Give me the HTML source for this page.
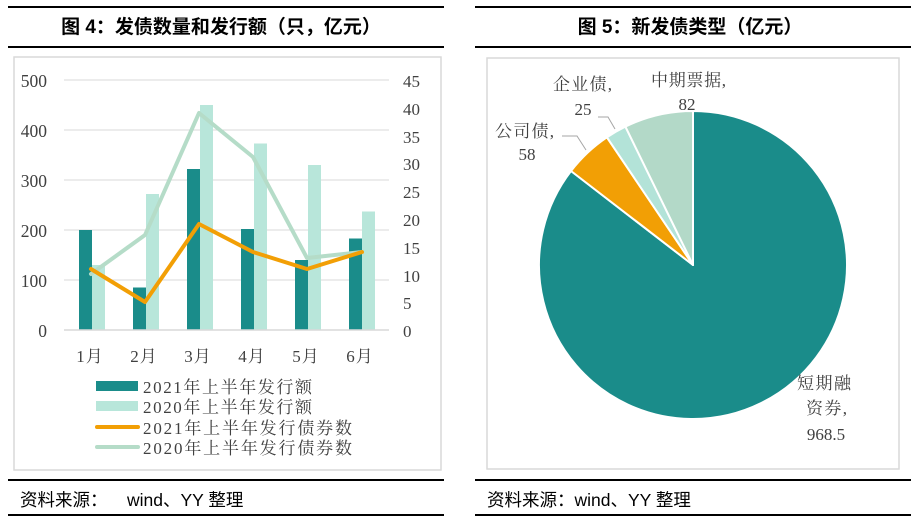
<!DOCTYPE html>
<html><head><meta charset="utf-8"><style>
body{margin:0;width:921px;height:532px;background:#fff;overflow:hidden}
svg{display:block}
</style></head><body>
<svg width="921" height="532" xmlns="http://www.w3.org/2000/svg">
<g font-family="'Liberation Sans','Noto Sans CJK SC',sans-serif">
<line x1="8" y1="7" x2="444" y2="7" stroke="#000" stroke-width="2"/>
<line x1="8" y1="47" x2="444" y2="47" stroke="#000" stroke-width="2"/>
<line x1="8" y1="480" x2="444" y2="480" stroke="#000" stroke-width="2"/>
<line x1="8" y1="515" x2="444" y2="515" stroke="#000" stroke-width="2"/>
<text x="221" y="33" text-anchor="middle" font-size="19" font-weight="bold">图 4：发债数量和发行额（只，亿元）</text>
<text x="20" y="506" font-size="17.5">资料来源：</text>
<text x="127" y="506" font-size="17.5">wind、YY 整理</text>
<rect x="14" y="57" width="427" height="413" fill="none" stroke="#d9d9d9" stroke-width="1.5"/>
<line x1="475" y1="7" x2="911" y2="7" stroke="#000" stroke-width="2"/>
<line x1="475" y1="47" x2="911" y2="47" stroke="#000" stroke-width="2"/>
<line x1="475" y1="480" x2="911" y2="480" stroke="#000" stroke-width="2"/>
<line x1="475" y1="515" x2="911" y2="515" stroke="#000" stroke-width="2"/>
<text x="690" y="33" text-anchor="middle" font-size="19" font-weight="bold">图 5：新发债类型（亿元）</text>
<text x="487" y="506" font-size="17.5">资料来源：wind、YY 整理</text>
<rect x="487" y="58" width="412" height="411" fill="none" stroke="#d9d9d9" stroke-width="1.5"/>
</g>
<g font-family="'Liberation Serif','Noto Serif CJK SC',serif" font-size="17" fill="#404040">
<g stroke="#d9d9d9" stroke-width="1">
<line x1="64" y1="80" x2="389" y2="80"/><line x1="64" y1="130" x2="389" y2="130"/>
<line x1="64" y1="180" x2="389" y2="180"/><line x1="64" y1="230" x2="389" y2="230"/>
<line x1="64" y1="280" x2="389" y2="280"/>
</g>
<g text-anchor="end" font-size="17.5">
<text x="47" y="87">500</text><text x="47" y="137">400</text><text x="47" y="187">300</text>
<text x="47" y="237">200</text><text x="47" y="287">100</text><text x="47" y="337">0</text>
</g>
<g text-anchor="start">
<text x="403" y="87">45</text><text x="403" y="115">40</text><text x="403" y="143">35</text>
<text x="403" y="170">30</text><text x="403" y="198">25</text><text x="403" y="226">20</text>
<text x="403" y="254">15</text><text x="403" y="282">10</text><text x="403" y="309">5</text><text x="403" y="337">0</text>
</g>
<g fill="#1a8c8a">
<rect x="79" y="230" width="13" height="100"/>
<rect x="133" y="287.5" width="13" height="42.5"/>
<rect x="187" y="169" width="13" height="161"/>
<rect x="241" y="229" width="13" height="101"/>
<rect x="295" y="260" width="13" height="70"/>
<rect x="349" y="238.5" width="13" height="91.5"/>
</g>
<g fill="#b8e6da">
<rect x="92" y="265" width="13" height="65"/>
<rect x="146" y="194" width="13" height="136"/>
<rect x="200" y="105" width="13" height="225"/>
<rect x="254" y="143.5" width="13" height="186.5"/>
<rect x="308" y="165" width="13" height="165"/>
<rect x="362" y="211.5" width="13" height="118.5"/>
</g>
<line x1="64" y1="330" x2="389" y2="330" stroke="#d9d9d9" stroke-width="1.5"/>
<polyline points="91,274 145,235 199,113 253,157 307,258 362,252" fill="none" stroke="#b5dcc8" stroke-width="4" stroke-linejoin="round" stroke-linecap="round"/>
<polyline points="91,269 145,302 199,224 253,252 307,269 362,252" fill="none" stroke="#f29f05" stroke-width="4" stroke-linejoin="round" stroke-linecap="round"/>
<g text-anchor="middle" letter-spacing="1">
<text x="90" y="362">1月</text><text x="144" y="362">2月</text><text x="198" y="362">3月</text>
<text x="252" y="362">4月</text><text x="306" y="362">5月</text><text x="360" y="362">6月</text>
</g>
<g letter-spacing="3">
<rect x="96" y="381" width="42" height="10" fill="#1a8c8a"/>
<text x="143" y="393" textLength="172">2021年上半年发行额</text>
<rect x="96" y="401" width="42" height="10" fill="#b8e6da"/>
<text x="143" y="413" textLength="172">2020年上半年发行额</text>
<line x1="97" y1="427" x2="138" y2="427" stroke="#f29f05" stroke-width="4" stroke-linecap="round"/>
<text x="143" y="434" textLength="212">2021年上半年发行债券数</text>
<line x1="97" y1="447" x2="138" y2="447" stroke="#b5dcc8" stroke-width="4" stroke-linecap="round"/>
<text x="143" y="454" textLength="212">2020年上半年发行债券数</text>
</g>
<g stroke="#fff" stroke-width="2" stroke-linejoin="round">
<path d="M693,265 L693,111 A154,154 0 1 1 571,171 Z" fill="#1a8c8a"/>
<path d="M693,265 L571,171 A154,154 0 0 1 606.9,137.3 Z" fill="#f29f05"/>
<path d="M693,265 L606.9,137.3 A154,154 0 0 1 625.4,126.6 Z" fill="#b3e3d8"/>
<path d="M693,265 L625.4,126.6 A154,154 0 0 1 693,111 Z" fill="#b3d9c8"/>
</g>
<g stroke="#a6a6a6" stroke-width="1" fill="none">
<polyline points="562,136 577,136 586,150"/>
<polyline points="598,117 608,117 615,129"/>
</g>
<g letter-spacing="3">
<text x="651" y="86" textLength="78">中期票据,</text>
<text x="553" y="90" textLength="62">企业债,</text>
<text x="495" y="137" textLength="62">公司债,</text>
<text x="797" y="389" textLength="57">短期融</text>
<text x="806" y="414" textLength="44">资券,</text>
</g>
<text x="687" y="110" text-anchor="middle">82</text>
<text x="583" y="115" text-anchor="middle">25</text>
<text x="527" y="160" text-anchor="middle">58</text>
<text x="826" y="440" text-anchor="middle">968.5</text>
</g>
</svg>
</body></html>
